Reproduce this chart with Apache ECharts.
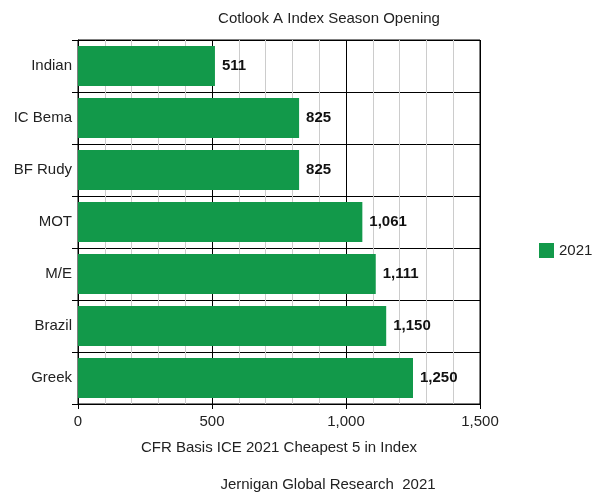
<!DOCTYPE html>
<html>
<head>
<meta charset="utf-8">
<script src="https://cdn.jsdelivr.net/npm/echarts@6/dist/echarts.min.js"></script>
<style>
  html, body { margin: 0; padding: 0; background: #fff; }
  #chart { width: 597px; height: 493px; }
</style>
</head>
<body>
<div id="chart"></div>
<script>
const categories = ['Indian', 'IC Bema', 'BF Rudy', 'MOT', 'M/E', 'Brazil', 'Greek'];
const values2021 = [511, 825, 825, 1061, 1111, 1150, 1250];
const xTicks = [0, 500, 1000, 1500];

const font = 'Liberation Sans, Arial, sans-serif';
const chart = echarts.init(document.getElementById('chart'));
chart.setOption({
    textStyle: { fontFamily: font },
    title: [
        {
            text: 'Cotlook A Index Season Opening',
            left: 324, top: 6, textAlign: 'center',
            textStyle: { fontSize: 15, fontWeight: 'normal', color: '#222', fontFamily: font }
        },
        {
            text: 'Jernigan Global Research  2021',
            left: 323, top: 472, textAlign: 'center',
            textStyle: { fontSize: 15, fontWeight: 'normal', color: '#222', fontFamily: font }
        }
    ],
    legend: {
        left: 534, top: 238, orient: 'vertical',
        itemWidth: 15, itemHeight: 15, itemGap: 6,
        textStyle: { fontSize: 15, color: '#222' },
        data: [{ name: '2021', icon: 'rect' }]
    },
    grid: {
        left: 78, right: 117, top: 40, bottom: 89,
        show: true, borderColor: '#000', borderWidth: 1
    },
    xAxis: {
        type: 'value', min: 0, max: 1500, interval: 500,
        name: 'CFR Basis ICE 2021 Cheapest 5 in Index',
        nameLocation: 'middle', nameGap: 36,
        nameTextStyle: { fontSize: 15, color: '#222' },
        axisLine: { show: true, lineStyle: { color: '#000' } },
        axisTick: { show: true, length: 5, lineStyle: { color: '#000' } },
        axisLabel: {
            fontSize: 15, color: '#222', margin: 10,
            formatter: v => xTicks.includes(v) ? v.toLocaleString('en-US') : ''
        },
        splitLine: { show: true, lineStyle: { color: '#000', width: 1 } },
        minorTick: { show: false, splitNumber: 5 },
        minorSplitLine: { show: true, lineStyle: { color: '#ccc', width: 1 } }
    },
    yAxis: {
        type: 'category', inverse: true, data: categories,
        axisLine: { show: true, lineStyle: { color: '#000' } },
        axisTick: { show: true, length: 6, lineStyle: { color: '#000' } },
        axisLabel: { fontSize: 15, color: '#222', margin: 6 },
        splitLine: { show: true, lineStyle: { color: '#000' } }
    },
    series: [{
        name: '2021', type: 'bar', data: values2021,
        barCategoryGap: '23%',
        itemStyle: { color: '#12994a' },
        label: {
            show: true, position: 'right', distance: 7,
            fontSize: 15, fontWeight: 'bold', color: '#111',
            formatter: p => p.value.toLocaleString('en-US')
        }
    }]
});
</script>
</body>
</html>
